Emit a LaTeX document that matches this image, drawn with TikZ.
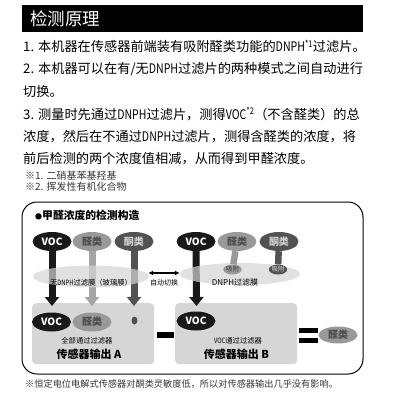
\documentclass[tikz,border=0pt]{standalone}
\usepackage{fontspec}
\usepackage{graphicx}
\setmainfont{Noto Sans CJK SC}
\usetikzlibrary{shapes, arrows.meta, positioning, shapes.geometric, calc}
\newcommand{\narrowlatin}[1]{\scalebox{0.8}[1]{#1}}

\begin{document}
\begin{tikzpicture}[x=1pt, y=-1pt]
                    \tikzstyle{para} = [anchor=west, inner sep=0pt, font=\fontsize{13.2}{15}\selectfont]
                    \tikzstyle{note} = [anchor=west, inner sep=0pt, font=\fontsize{10}{11}\selectfont, text=black!80]
                    \tikzstyle{gas} = [ellipse, minimum width=39pt, minimum height=19pt, inner sep=0pt, font=\fontsize{10}{12}\selectfont\bfseries]
                    \tikzstyle{voc} = [gas, fill=black!90, text=white]
                    \tikzstyle{ald} = [gas, fill=black!40, text=black!70]
                    \tikzstyle{ket} = [gas, fill=black!68, text=black!18]
                    \tikzstyle{filter} = [ellipse, fill=black!17, fill opacity=0.7, minimum height=22pt, inner sep=0pt]
                    \tikzstyle{adsorb} = [ellipse, minimum width=13pt, minimum height=10pt, inner sep=0pt, font=\fontsize{6.5}{7}\selectfont]
                    \tikzstyle{sensor} = [rectangle, rounded corners=4pt, fill=black!16, minimum width=122pt, minimum height=61pt, anchor=north west]
                    \tikzstyle{flow} = [line width=7pt, -{Triangle[width=14pt, length=9pt]}]
                    \tikzstyle{small} = [inner sep=0pt, font=\fontsize{7.3}{8}\selectfont]
                    \tikzstyle{output} = [inner sep=0pt, font=\fontsize{11}{12}\selectfont\bfseries]

                    \useasboundingbox (0,0) rectangle (400,400);

                    % heading and explanation
                    \node[fill=black, text=white, anchor=north west, minimum height=27pt, text width=325pt, inner xsep=8pt, font=\fontsize{17.5}{20}\selectfont] (title) at (22,5) {检测原理};
                    \node[para] (line1) at (23,46.5) {1. 本机器在传感器前端装有吸附醛类功能的\narrowlatin{DNPH\textsuperscript{*1}}过滤片。};
                    \node[para] (line2) at (23,69) {2. 本机器可以在有/无\narrowlatin{DNPH}过滤片的两种模式之间自动进行};
                    \node[para] (line3) at (23,91.5) {切换。};
                    \node[para] (line4) at (23,114) {3. 测量时先通过\narrowlatin{DNPH}过滤片，测得\narrowlatin{VOC\textsuperscript{*2}}（不含醛类）的总};
                    \node[para] (line5) at (23,136.5) {浓度，然后在不通过\narrowlatin{DNPH}过滤片，测得含醛类的浓度，将};
                    \node[para] (line6) at (23,159) {前后检测的两个浓度值相减，从而得到甲醛浓度。};
                    \node[note] (fn1) at (25,175.5) {※1. 二硝基苯基羟基};
                    \node[note] (fn2) at (25,186.5) {※2. 挥发性有机化合物};

                    % frame
                    \draw[line width=1pt, rounded corners=15pt] (22,202) rectangle (363,374);
                    \node[anchor=west, inner sep=0pt, font=\fontsize{10.8}{12}\selectfont\bfseries] (head) at (35,215.5) {\fontsize{7}{8}\selectfont●\fontsize{10.8}{12}\selectfont 甲醛浓度的检测构造};

                    % gases
                    \node[voc] (vocA) at (52,241.5) {VOC};
                    \node[ald] (aldA) at (92,241.5) {醛类};
                    \node[ket] (ketA) at (134,241.5) {酮类};
                    \node[voc] (vocB) at (196,241.5) {VOC};
                    \node[ald] (aldB) at (237,241.5) {醛类};
                    \node[ket] (ketB) at (279,241.5) {酮类};

                    % sensor boxes
                    \node[sensor] (boxA) at (32,303) {};
                    \node[sensor] (boxB) at (175,303) {};

                    \coordinate (inV) at (52,306);
                    \coordinate (inL) at (92,306);
                    \coordinate (inK) at (134,306);
                    \coordinate (inB) at (196.5,306);
                    \draw[flow, black!90] (vocA) -- (inV);
                    \draw[flow, black!35] (aldA) -- (inL);
                    \draw[flow, black!68] (ketA) -- (inK);
                    \draw[flow, black!90] (vocB) -- (inB);

                    % filters
                    \node[filter, minimum width=116pt] (glass) at (91,276.5) {};
                    \node[filter, minimum width=120pt] (dnph) at (240,274) {};
                    \node[adsorb, fill=black!40, text=black!75] (adsA) at (232.5,269.5) {吸附};
                    \node[adsorb, fill=black!68, text=black!15] (adsK) at (278,269.5) {吸附};
                    \draw[line width=6.5pt, black!40] (aldB) -- (adsA);
                    \draw[line width=6.5pt, black!68] (ketB) -- (adsK);
                    \node[small] (glasstext) at (91,282.5) {无\narrowlatin{DNPH}过滤膜（玻璃膜）};
                    \node[small, font=\fontsize{8}{9}\selectfont] (dnphtext) at (235,282) {DNPH过滤膜};

                    % switching
                    \draw[{Latex[length=5pt, width=5pt]}-{Latex[length=5pt, width=5pt]}, line width=1.1pt] (glass.east) ++(-1,-3.5) coordinate (swA) -- (dnph.west |- swA) coordinate (swB);
                    \node[small, font=\fontsize{7}{8}\selectfont] (switch) at (164,283) {自动切换};

                    % outputs
                    \node[voc] (outV) at (51.5,322) {VOC};
                    \node[ald] (outL) at (92,322) {醛类};
                    \node[ellipse, fill=black!68, minimum width=6pt, minimum height=8pt, inner sep=0pt] (outK) at (134.5,320.5) {};
                    \node[inner sep=0pt, text=black!35, font=\fontsize{4}{4}\selectfont] (outKmark) at (141.5,323.5) {※};
                    \node[small] (passA) at (87,341) {全部通过过滤器};
                    \node[output] (outA) at (89,354) {传感器输出 A};

                    \node[voc] (outVB) at (196,321) {VOC};
                    \node[small] (passB) at (238,341) {\narrowlatin{VOC}通过过滤器};
                    \node[output] (outB) at (236.5,354.5) {传感器输出 B};

                    % minus and equals
                    \fill (156.5,332) rectangle (173.5,338);
                    \fill (299,328.3) rectangle (317.5,332.8);
                    \fill (299,338.3) rectangle (317.5,342.8);
                    \node[ald, minimum height=17pt] (result) at (338,335) {醛类};

                    \node[anchor=west, inner sep=0pt, font=\fontsize{9.2}{10}\selectfont, text=black!80] (remark) at (25,384) {※恒定电位电解式传感器对酮类灵敏度低，所以对传感器输出几乎没有影响。};
                \end{tikzpicture}
\end{document}
